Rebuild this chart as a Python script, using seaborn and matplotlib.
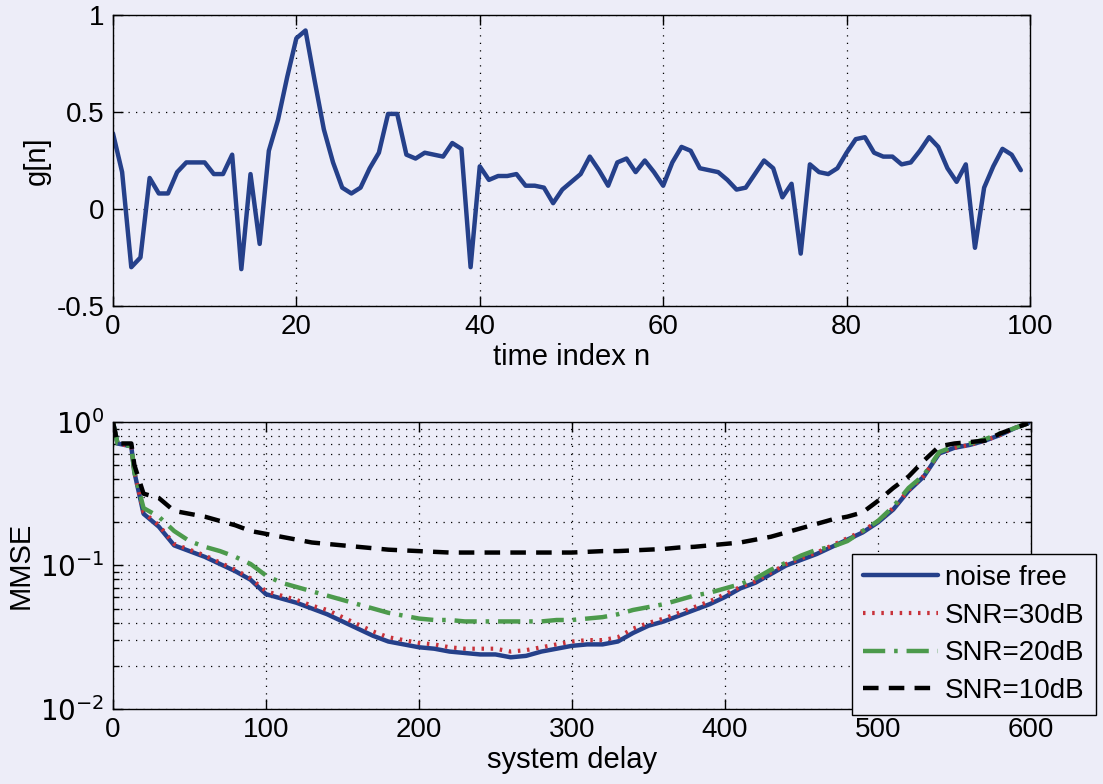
import numpy as np
import matplotlib
matplotlib.use("Agg")
import matplotlib.pyplot as plt
from matplotlib.ticker import LogLocator, NullFormatter, FixedLocator
import seaborn as sns

# ---- impulse response g[n] ----
n_index = list(range(100))
g_values = [
    0.39, 0.19, -0.30, -0.25, 0.16, 0.08, 0.08, 0.19, 0.24, 0.24,
    0.24, 0.18, 0.18, 0.28, -0.31, 0.18, -0.18, 0.30, 0.46, 0.68,
    0.88, 0.92, 0.66, 0.41, 0.24, 0.11, 0.08, 0.11, 0.21, 0.29,
    0.49, 0.49, 0.28, 0.26, 0.29, 0.28, 0.27, 0.34, 0.31, -0.30,
    0.22, 0.15, 0.17, 0.17, 0.18, 0.12, 0.12, 0.11, 0.03, 0.10,
    0.14, 0.18, 0.27, 0.20, 0.12, 0.24, 0.26, 0.19, 0.25, 0.19,
    0.12, 0.24, 0.32, 0.30, 0.21, 0.20, 0.19, 0.15, 0.10, 0.11,
    0.18, 0.25, 0.21, 0.06, 0.13, -0.23, 0.23, 0.19, 0.18, 0.21,
    0.29, 0.36, 0.37, 0.29, 0.27, 0.27, 0.23, 0.24, 0.30, 0.37,
    0.32, 0.21, 0.14, 0.23, -0.20, 0.11, 0.22, 0.31, 0.28, 0.20,
]

# ---- MMSE versus system delay (values in dB) ----
delay = [0, 3, 12, 14, 20] + list(range(30, 600, 10)) + [598]

mmse_db_noise_free = [
    0.0, -1.5, -1.7, -3.5, -6.4, -7.3, -8.6, -9.0, -9.4, -9.9,
    -10.4, -11.0, -12.0, -12.3, -12.6, -13.0, -13.4, -13.9, -14.4, -14.9,
    -15.3, -15.5, -15.7, -15.8, -16.0, -16.1, -16.2, -16.2, -16.4, -16.3,
    -16.0, -15.8, -15.6, -15.5, -15.5, -15.3, -14.7, -14.2, -13.9, -13.5,
    -13.1, -12.7, -12.2, -11.6, -11.2, -10.6, -10.0, -9.6, -9.2, -8.7,
    -8.2, -7.7, -7.0, -6.1, -4.8, -3.8, -2.2, -1.8, -1.6, -1.3,
    -0.9, -0.4, -0.1,
]
mmse_db_snr30 = [
    0.0, -1.5, -1.7, -3.5, -6.3, -7.2, -8.5, -8.9, -9.3, -9.8,
    -10.3, -10.9, -11.8, -12.1, -12.4, -12.8, -13.1, -13.6, -14.1, -14.6,
    -15.0, -15.2, -15.4, -15.5, -15.7, -15.8, -15.8, -15.8, -16.0, -15.9,
    -15.7, -15.5, -15.3, -15.2, -15.2, -15.0, -14.4, -14.0, -13.7, -13.3,
    -12.9, -12.5, -12.0, -11.5, -11.1, -10.5, -9.9, -9.5, -9.1, -8.6,
    -8.1, -7.6, -6.9, -6.0, -4.75, -3.75, -2.2, -1.8, -1.6, -1.3,
    -0.9, -0.4, -0.1,
]
mmse_db_snr20 = [
    0.0, -1.5, -1.7, -3.5, -6.0, -6.6, -7.6, -8.3, -8.7, -9.0,
    -9.4, -9.9, -10.7, -11.2, -11.5, -11.8, -12.1, -12.4, -12.7, -13.0,
    -13.3, -13.5, -13.7, -13.8, -13.8, -13.9, -13.9, -13.9, -13.9, -13.9,
    -13.9, -13.8, -13.8, -13.7, -13.6, -13.4, -13.1, -12.9, -12.7, -12.4,
    -12.1, -11.9, -11.6, -11.3, -10.9, -10.3, -9.8, -9.3, -8.9, -8.7,
    -8.3, -7.6, -6.9, -5.9, -4.6, -3.7, -2.1, -1.7, -1.5, -1.2,
    -0.8, -0.4, -0.1,
]
mmse_db_snr10 = [
    0.0, -1.5, -1.5, -3.0, -5.0, -5.3, -6.2, -6.4, -6.6, -6.9,
    -7.2, -7.6, -7.8, -8.0, -8.2, -8.4, -8.5, -8.6, -8.7, -8.8,
    -8.9, -8.95, -9.0, -9.05, -9.1, -9.1, -9.1, -9.1, -9.1, -9.1,
    -9.1, -9.1, -9.1, -9.05, -9.0, -9.0, -8.95, -8.9, -8.85, -8.75,
    -8.7, -8.6, -8.5, -8.4, -8.2, -8.0, -7.7, -7.4, -7.1, -6.8,
    -6.6, -6.3, -5.5, -4.6, -3.8, -2.7, -1.7, -1.5, -1.4, -1.3,
    -0.8, -0.4, -0.1,
]

series_labels = ["noise free", "SNR=30dB", "SNR=20dB", "SNR=10dB"]

# ---- styling ----
bg = "#ededf8"
sns.set_style("ticks")
plt.rcParams.update({
    "font.family": ["Liberation Sans", "DejaVu Sans"],
    "font.size": 20,
    "axes.unicode_minus": False,
    "figure.facecolor": bg,
    "axes.facecolor": bg,
    "savefig.facecolor": bg,
    "axes.edgecolor": "black",
    "axes.linewidth": 1.0,
    "xtick.direction": "in",
    "ytick.direction": "in",
    "xtick.color": "black",
    "ytick.color": "black",
    "text.color": "black",
    "axes.labelcolor": "black",
})

fig = plt.figure(figsize=(11.03, 7.84), dpi=100)
ax1 = fig.add_axes([0.1024, 0.6097, 0.8314, 0.3712])
ax2 = fig.add_axes([0.1024, 0.0957, 0.8323, 0.3661])

grid_kw = dict(color="black", linestyle=(0, (1, 5)), linewidth=0.9)

# top panel: g[n]
sns.lineplot(x=n_index, y=g_values, ax=ax1, color="#25408a", linewidth=3.2)
ax1.set_xlim(0, 100)
ax1.set_ylim(-0.5, 1)
ax1.set_xticks([0, 20, 40, 60, 80, 100])
ax1.set_yticks([-0.5, 0, 0.5, 1])
ax1.set_yticklabels(["-0.5", "0", "0.5", "1"])
ax1.set_xlabel("time index n", labelpad=2, fontsize=21)
ax1.set_ylabel("g[n]", labelpad=4, fontsize=21)
ax1.grid(True, **grid_kw)
ax1.tick_params(which="major", length=7, width=1, top=True, right=True,
                labelsize=20, pad=6)

# bottom panel: MMSE
styles = [
    (mmse_db_noise_free, "#25408a", "-", 3.2),
    (mmse_db_snr30, "#c8323a", (0, (0.6, 1.6)), 3.0),
    (mmse_db_snr20, "#4c9a4c", (0, (5, 2, 0.8, 2)), 3.2),
    (mmse_db_snr10, "black", (0, (3.5, 2.3)), 3.2),
]
for (vals_db, col, ls, lw), lab in zip(styles, series_labels):
    mmse = [10 ** (v / 10.0) for v in vals_db]
    sns.lineplot(x=delay, y=mmse, ax=ax2, color=col, linewidth=lw,
                 linestyle=ls, label=lab)

ax2.set_yscale("log")
ax2.set_xlim(0, 600)
ax2.set_ylim(1e-2, 1)
ax2.set_xticks([0, 100, 200, 300, 400, 500, 600])
ax2.yaxis.set_major_locator(FixedLocator([1e-2, 1e-1, 1]))
ax2.set_yticklabels([r"$10^{-2}$", r"$10^{-1}$", r"$10^{0}$"])
ax2.yaxis.set_minor_locator(LogLocator(base=10, subs=np.arange(2, 10)))
ax2.yaxis.set_minor_formatter(NullFormatter())
ax2.set_xlabel("system delay", labelpad=2, fontsize=21)
ax2.set_ylabel("MMSE", labelpad=4, fontsize=21)
ax2.grid(True, which="major", **grid_kw)
ax2.grid(True, which="minor", axis="y", **grid_kw)
ax2.tick_params(which="major", length=7, width=1, top=True, right=True,
                labelsize=20, pad=6)
ax2.tick_params(which="minor", length=4, width=1, left=True, right=True)

leg = ax2.legend(loc="upper left", bbox_to_anchor=(852 / 1103, 1 - 554 / 784),
                 bbox_transform=fig.transFigure, fontsize=20, frameon=True,
                 fancybox=False, framealpha=1, facecolor=bg, edgecolor="black",
                 handlelength=2.7, handletextpad=0.25, labelspacing=0.42,
                 borderpad=0.4, borderaxespad=0)
leg.get_frame().set_linewidth(1.0)
leg.set_zorder(10)

fig.savefig("out.png", dpi=100)
